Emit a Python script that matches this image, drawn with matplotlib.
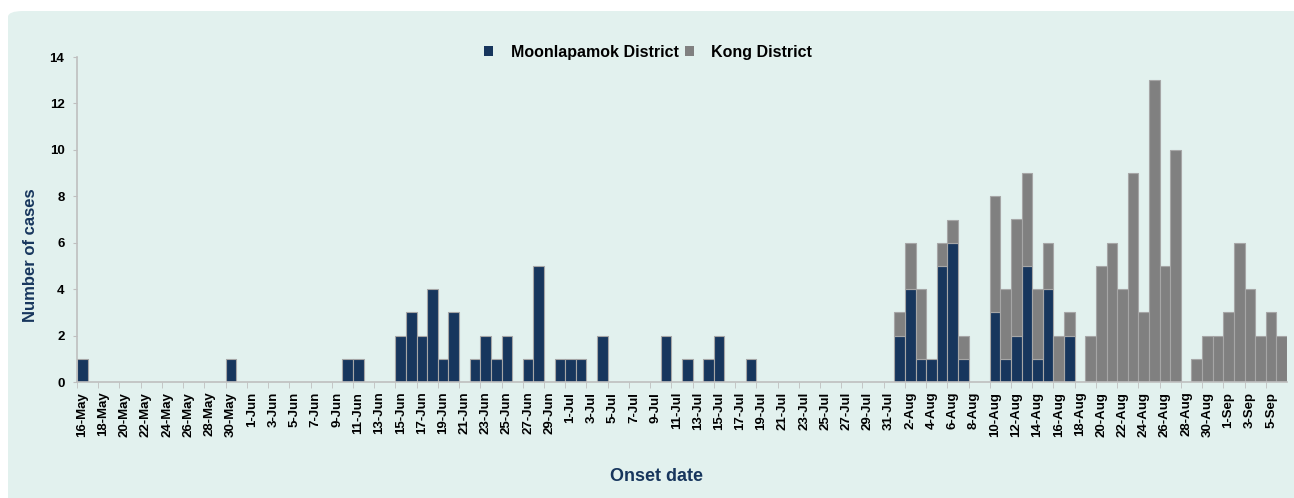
import matplotlib.pyplot as plt
from matplotlib.patches import FancyBboxPatch
import numpy as np
import pandas as pd

plt.rcParams['font.family'] = ['Liberation Sans', 'DejaVu Sans']

# fechas de inicio (16-May a 6-Sep)
dates = pd.date_range('2023-05-16', '2023-09-06', freq='D')
date_labels = [f"{d.day}-{d.strftime('%b')}" for d in dates]

# casos por día, Moonlapamok
moon_may = [1, 0, 0, 0, 0, 0, 0, 0, 0, 0, 0, 0, 0, 0, 1, 0]
moon_jun = [0, 0, 0, 0, 0, 0, 0, 0, 0, 1, 1, 0, 0, 0, 2, 3, 2, 4, 1, 3,
            0, 1, 2, 1, 2, 0, 1, 5, 0, 1]
moon_jul = [1, 1, 0, 2, 0, 0, 0, 0, 0, 2, 0, 1, 0, 1, 2, 0, 0, 1, 0, 0,
            0, 0, 0, 0, 0, 0, 0, 0, 0, 0, 0]
moon_aug = [2, 4, 1, 1, 5, 6, 1, 0, 0, 3, 1, 2, 5, 1, 4, 0, 2, 0, 0, 0,
            0, 0, 0, 0, 0, 0, 0, 0, 0, 0, 0]
moon_sep = [0, 0, 0, 0, 0, 0]

# casos por día, Kong
kong_may = [0] * 16
kong_jun = [0] * 30
kong_jul = [0] * 31
kong_aug = [1, 2, 3, 0, 1, 1, 1, 0, 0, 5, 3, 5, 4, 3, 2, 2, 1, 0, 2, 5,
            6, 4, 9, 3, 13, 5, 10, 0, 1, 2, 2]
kong_sep = [3, 6, 4, 2, 3, 2]

moon = np.array(moon_may + moon_jun + moon_jul + moon_aug + moon_sep)
kong = np.array(kong_may + kong_jun + kong_jul + kong_aug + kong_sep)
x = np.arange(len(dates))

bg = '#e2f1ee'
navy = '#17365d'
grey = '#808080'
edge = '#a6a6a6'
axis_col = '#bfbfbf'

W, H = 1294, 498
fig = plt.figure(figsize=(W / 100, H / 100), dpi=100)
fig.patch.set_facecolor('white')
# panel de fondo con esquina redondeada arriba a la izquierda
panel = FancyBboxPatch((8 / W, -0.1), 1.2, (H - 11) / H + 0.1,
                       boxstyle='round,pad=0,rounding_size=0.012',
                       transform=fig.transFigure, facecolor=bg,
                       edgecolor='none', zorder=-10)
fig.patches.append(panel)

ax = fig.add_axes([77 / W, (H - 382) / H, (1287 - 77) / W, (382 - 57) / H])
ax.set_facecolor('none')

b1 = ax.bar(x, moon, width=1, color=navy, edgecolor=edge, linewidth=0.8,
            label='Moonlapamok District')
b2 = ax.bar(x, kong, width=1, bottom=moon, color=grey, edgecolor=edge,
            linewidth=0.8, label='Kong District')
# sin borde en barras de altura cero
for p in list(b1) + list(b2):
    if p.get_height() == 0:
        p.set_linewidth(0)

ax.set_xlim(-0.5, len(dates) - 0.5)
ax.set_ylim(0, 14)
ax.set_yticks(range(0, 15, 2))
ax.tick_params(axis='y', labelsize=9.5, length=3, color=axis_col, pad=6)
for t in ax.get_yticklabels():
    t.set_fontweight('bold')

ax.set_xticks(x[::2])
ax.set_xticklabels(date_labels[::2], rotation=90, fontsize=9.5, fontweight='bold')
ax.set_xticks(x[::2] - 0.5, minor=True)
ax.tick_params(axis='x', which='major', length=0, pad=7)
ax.tick_params(axis='x', which='minor', length=4, color=axis_col)

for s in ['top', 'right']:
    ax.spines[s].set_visible(False)
for s in ['left', 'bottom']:
    ax.spines[s].set_color(axis_col)
    ax.spines[s].set_linewidth(1.2)

fig.text(31 / W, 1 - 255 / H, 'Number of cases', rotation=90, ha='center',
         va='center', fontsize=12, fontweight='bold', color=navy)
fig.text(656 / W, 1 - 476 / H, 'Onset date', ha='center', va='center',
         fontsize=13, fontweight='bold', color=navy)

leg = ax.legend(loc='center', bbox_to_anchor=(0.472, 1.015), ncol=2, frameon=False,
                prop={'weight': 'bold', 'size': 11.5}, handlelength=0.55,
                handleheight=0.55, columnspacing=0.4, handletextpad=1.1)
for h in leg.legend_handles:
    h.set_linewidth(0)

fig.savefig('out.png', dpi=100, facecolor=fig.get_facecolor())
